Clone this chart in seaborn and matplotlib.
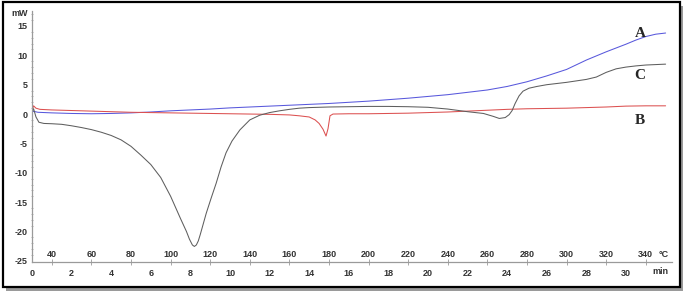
import matplotlib
matplotlib.use("Agg")
import matplotlib.pyplot as plt
from matplotlib.patches import Rectangle
from matplotlib.ticker import MultipleLocator
import seaborn as sns

# ---- data (time in min, heat flow in mW) ----
tA = [0.0, 0.1, 0.3, 1, 2, 3, 4, 5, 6, 7, 8, 9, 10, 11, 12, 13, 14, 15, 16, 17, 18, 19,
      20, 21, 22, 23, 24, 25, 26, 27, 28, 29, 30, 30.5, 31, 31.5, 32]
vA = [0.4, 0.45, 0.3, 0.2, 0.1, 0.05, 0.1, 0.2, 0.35, 0.55, 0.7, 0.85, 1.05, 1.2, 1.35, 1.5,
      1.65, 1.8, 2.0, 2.2, 2.45, 2.7, 3.0, 3.3, 3.7, 4.1, 4.7, 5.5, 6.5, 7.6, 9.2, 10.6, 11.9,
      12.6, 13.2, 13.6, 13.8]

tB = [0, 0.08, 0.2, 0.4, 1, 2, 3, 4, 5, 6, 7, 8, 9, 10, 11, 12, 13, 13.5, 14, 14.3, 14.5,
      14.7, 14.85, 14.95, 15.05, 15.2, 16, 17, 18, 19, 20, 21, 22, 23, 24, 25, 26, 27, 28, 29,
      30, 31, 32]
vB = [0.5, 1.4, 1.0, 0.8, 0.7, 0.6, 0.5, 0.4, 0.3, 0.25, 0.2, 0.15, 0.1, 0.05, 0.0, -0.05,
      -0.15, -0.3, -0.5, -1.0, -1.6, -2.6, -3.75, -2.5, -0.3, 0.0, 0.05, 0.05, 0.1, 0.15, 0.25,
      0.35, 0.5, 0.65, 0.8, 0.9, 0.95, 1.0, 1.1, 1.2, 1.35, 1.4, 1.4]

tC = [0, 0.08, 0.2, 0.35, 0.6, 1, 1.5, 2, 2.5, 3, 3.5, 4, 4.5, 5, 5.5, 6, 6.5, 7, 7.5, 7.8,
      7.95, 8.1, 8.2, 8.3, 8.4, 8.5, 8.8, 9.05, 9.3, 9.55, 9.8, 10.1, 10.5, 11, 11.5, 12, 12.5,
      13, 13.5, 14, 15, 16, 17, 18, 19, 20, 21, 22, 22.8, 23.3, 23.6, 23.9, 24.1, 24.25, 24.4,
      24.6, 24.8, 25.1, 25.5, 26, 27, 28, 28.5, 29, 29.5, 30, 30.5, 31, 32]
vC = [0.3, 0.9, -0.5, -1.4, -1.6, -1.65, -1.75, -2.0, -2.3, -2.65, -3.1, -3.65, -4.4, -5.5,
      -7.0, -8.6, -10.8, -14.0, -17.8, -20.0, -21.3, -22.3, -22.55, -22.3, -21.6, -20.5, -16.9,
      -14.3, -11.8, -9.0, -6.6, -4.6, -2.7, -1.0, -0.2, 0.25, 0.55, 0.8, 1.0, 1.1, 1.2, 1.25,
      1.3, 1.3, 1.25, 1.15, 0.85, 0.4, 0.1, -0.4, -0.75, -0.6, -0.1, 0.6, 1.8, 3.1, 3.9, 4.4,
      4.7, 5.0, 5.4, 5.9, 6.3, 7.1, 7.7, 8.0, 8.2, 8.35, 8.5]

min_ticks = list(range(0, 31, 2))
temp_pos = list(range(1, 32, 2))
temp_labels = [str(30 + 10 * p) for p in temp_pos]
y_ticks = [-25, -20, -15, -10, -5, 0, 5, 10, 15]

sns.set_style("white")
plt.rcParams["font.family"] = ["Liberation Sans", "DejaVu Sans"]
plt.rcParams["lines.solid_joinstyle"] = "round"

fig = plt.figure(figsize=(6.85, 2.94), dpi=100)
fig.patch.set_facecolor("white")

# frame with shadow
W, H = 685, 294
fig.patches.append(Rectangle((6 / W, (294 - 291) / H), 677 / W, 285 / H, transform=fig.transFigure,
                             facecolor="#9a9a9a", edgecolor="none", zorder=0))
fig.patches.append(Rectangle((3 / W, (294 - 287) / H), 677 / W, 285 / H, transform=fig.transFigure,
                             facecolor="white", edgecolor="black", linewidth=1.6, zorder=1))

ax = fig.add_axes([32 / W, (294 - 262) / H, 32.3 * 19.8 / W, (262 - 11.3) / H])
ax.set_facecolor("none")
ax.set_zorder(2)

sns.lineplot(x=tA, y=vA, ax=ax, color="#5858dc", linewidth=0.75, estimator=None)
sns.lineplot(x=tB, y=vB, ax=ax, color="#dc5050", linewidth=0.75, estimator=None)
sns.lineplot(x=tC, y=vC, ax=ax, color="#5e5e5e", linewidth=0.75, estimator=None)

ax.set_xlim(0, 32.3)
ax.set_ylim(-25.2, 17.5)

for s in ["top", "right"]:
    ax.spines[s].set_visible(False)
for s in ["left", "bottom"]:
    ax.spines[s].set_color("#9a9a9a")
    ax.spines[s].set_linewidth(0.9)

ax.set_yticks(y_ticks)
ax.set_yticklabels([str(v) for v in y_ticks], fontsize=6.5, fontweight="bold", color="#333333")
ax.yaxis.set_minor_locator(MultipleLocator(1))
ax.tick_params(axis="y", which="major", direction="inout", length=4, width=0.7, color="#9a9a9a", pad=1)
ax.tick_params(axis="y", which="minor", direction="inout", length=2, width=0.5, color="#9a9a9a", left=True)

ax.set_xticks(min_ticks)
ax.set_xticklabels([str(v) for v in min_ticks], fontsize=6.5, fontweight="bold", color="#333333")
ax.set_xticks(temp_pos, minor=True)
ax.tick_params(axis="x", which="major", direction="out", length=3, width=0.6, color="#9a9a9a", pad=2)
ax.tick_params(axis="x", which="minor", direction="inout", length=4, width=0.6, color="#9a9a9a", bottom=True)

for p, lab in zip(temp_pos, temp_labels):
    ax.text(p, -23.9, lab, ha="center", va="center", fontsize=6.5, fontweight="bold", color="#333333")
ax.text(31.9, -23.9, "°C", ha="center", va="center", fontsize=6.5, fontweight="bold", color="#333333")
ax.text(31.75, -25.2 - 1.55, "min", ha="center", va="center", fontsize=6.5, fontweight="bold",
        color="#333333", clip_on=False)
ax.text(-0.6, 17.1, "mW", ha="center", va="center", fontsize=6.5, fontweight="bold",
        color="#333333", clip_on=False)

serif = ["Liberation Serif", "DejaVu Serif"]
ax.text(30.7, 13.8, "A", ha="center", va="center", fontsize=11, fontweight="bold", family=serif)
ax.text(30.7, 6.5, "C", ha="center", va="center", fontsize=11, fontweight="bold", family=serif)
ax.text(30.7, -1.1, "B", ha="center", va="center", fontsize=11, fontweight="bold", family=serif)

fig.savefig("out.png", dpi=100, facecolor="white")
